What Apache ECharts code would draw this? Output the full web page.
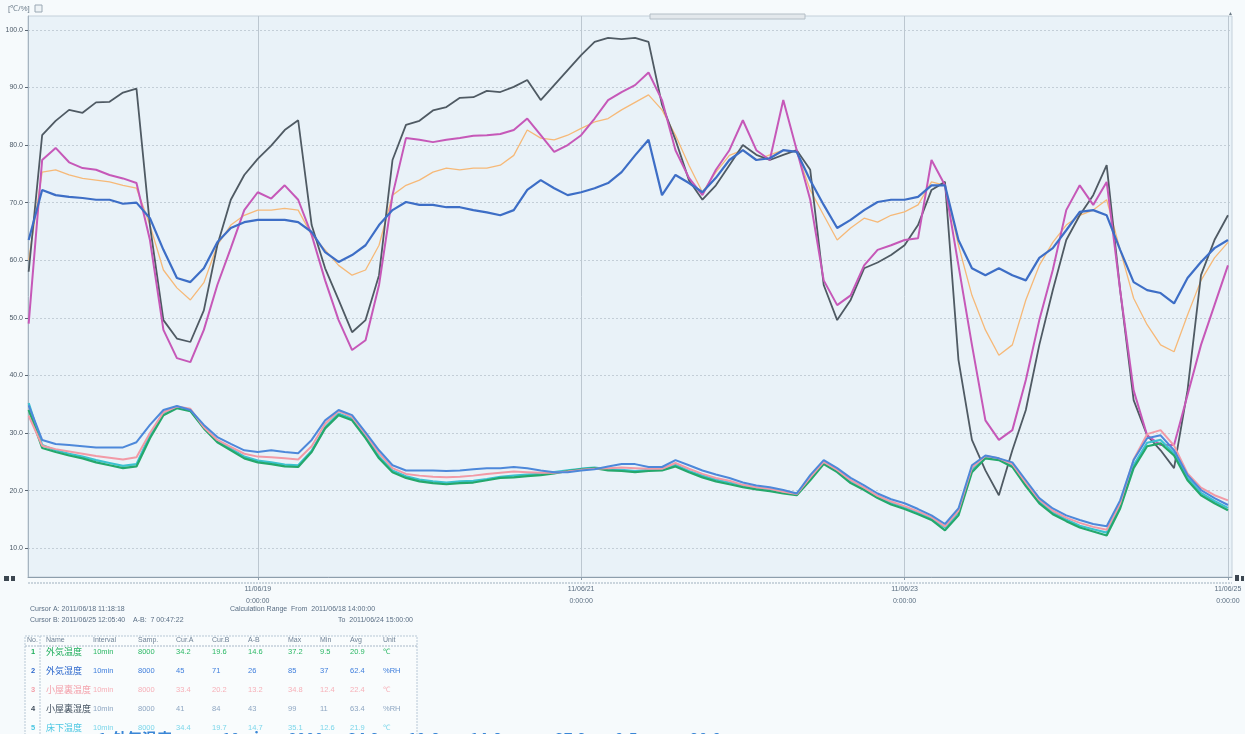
<!DOCTYPE html>
<html>
<head>
<meta charset="utf-8">
<script src="https://cdn.jsdelivr.net/npm/echarts@6/dist/echarts.min.js"></script>
<style>
  html, body { margin: 0; padding: 0; background: #f6fafc; }
  #chart { width: 1245px; height: 734px; }
</style>
</head>
<body>
<div id="chart"></div>
<script>
// Logger export: 8 channels, one reading every 2 hours, hours counted from 2011-06-17 00:00
const firstHour = 14;
const stepHours = 2;

const xTickHours = [48, 96, 144, 192];
const yTickValues = [10, 20, 30, 40, 50, 60, 70, 80, 90, 100];

// attic humidity (%RH)
const atticHumidity = [
  58.0, 81.7, 84.2, 86.1, 85.6, 87.4, 87.5, 89.1, 89.8, 66.0,
  49.6, 46.4, 45.8, 51.3, 62.6, 70.5, 74.8, 77.6, 79.9, 82.6,
  84.3, 66.1, 58.6, 53.1, 47.5, 49.6, 57.4, 77.4, 83.5, 84.2,
  86.0, 86.6, 88.2, 88.3, 89.4, 89.2, 90.1, 91.3, 87.8, 90.4,
  93.0, 95.6, 97.9, 98.6, 98.4, 98.6, 97.9, 87.0, 80.9, 73.9,
  70.5, 73.0, 76.5, 80.0, 78.3, 77.4, 78.3, 79.1, 75.7, 55.7,
  49.6, 53.1, 58.6, 59.6, 60.9, 62.6, 66.1, 72.2, 73.6, 42.7,
  28.8, 23.5, 19.2, 27.0, 34.0, 45.3, 54.8, 63.5, 67.8, 71.3,
  76.5, 54.8, 35.7, 29.6, 27.0, 23.9, 37.4, 57.4, 63.5, 67.8
];
// room humidity (%RH)
const roomHumidity = [
  49.0, 77.4, 79.5, 77.0, 76.0, 75.7, 74.8, 74.2, 73.4, 63.5,
  47.9, 43.0, 42.3, 47.9, 55.7, 62.1, 68.7, 71.8, 70.7, 73.0,
  70.5, 64.4, 56.5, 49.6, 44.4, 46.1, 55.7, 71.3, 81.2, 80.9,
  80.5, 80.9, 81.2, 81.6, 81.7, 81.9, 82.6, 84.6, 81.7, 78.8,
  80.0, 81.7, 84.6, 87.8, 89.2, 90.4, 92.6, 87.8, 79.1, 74.3,
  71.3, 75.7, 79.1, 84.3, 79.1, 77.4, 87.8, 79.1, 70.5, 56.5,
  52.2, 53.9, 59.1, 61.8, 62.6, 63.5, 63.8, 77.4, 73.0, 59.1,
  45.3, 32.2, 28.8, 30.5, 39.2, 49.6, 58.3, 68.7, 73.0, 69.6,
  73.6, 54.8, 37.4, 29.6, 27.9, 27.9, 36.6, 45.3, 52.2, 59.1
];
// underfloor humidity (%RH)
const floorHumidity = [
  60.0, 75.3, 75.7, 74.8, 74.2, 73.9, 73.6, 73.0, 72.5, 66.1,
  58.3, 55.2, 53.1, 56.1, 62.6, 66.1, 67.8, 68.7, 68.7, 69.0,
  68.7, 64.4, 61.8, 59.1, 57.4, 58.3, 62.6, 71.3, 73.0, 73.9,
  75.3, 76.0, 75.7, 76.0, 76.0, 76.5, 78.2, 82.6, 81.2, 80.9,
  81.7, 82.9, 84.0, 84.6, 86.1, 87.4, 88.7, 86.1, 81.7, 76.5,
  71.8, 75.3, 78.2, 79.1, 77.4, 78.3, 79.1, 78.8, 72.2, 67.8,
  63.5, 65.6, 67.3, 66.6, 67.8, 68.4, 69.6, 73.6, 73.0, 62.6,
  53.9, 47.9, 43.5, 45.3, 53.1, 59.1, 63.1, 66.1, 67.8, 68.7,
  70.5, 61.8, 53.4, 48.8, 45.3, 44.1, 50.5, 56.5, 60.4, 63.1
];
// outdoor humidity (%RH)
const outdoorHumidity = [
  63.5, 72.2, 71.3, 71.0, 70.8, 70.5, 70.5, 69.8, 70.0, 67.3,
  61.8, 56.9, 56.2, 58.6, 63.1, 65.6, 66.6, 67.0, 67.0, 67.0,
  66.6, 64.9, 61.4, 59.7, 60.9, 62.6, 66.1, 68.7, 70.1, 69.6,
  69.6, 69.2, 69.2, 68.7, 68.3, 67.8, 68.7, 72.2, 73.9, 72.5,
  71.3, 71.8, 72.5, 73.4, 75.3, 78.2, 80.9, 71.3, 74.8, 73.4,
  71.8, 74.3, 77.4, 79.1, 77.4, 77.7, 79.1, 78.8, 73.9, 69.6,
  65.6, 67.0, 68.7, 70.1, 70.5, 70.5, 71.0, 73.0, 73.0, 63.5,
  58.6, 57.4, 58.6, 57.4, 56.5, 60.4, 62.1, 65.2, 68.4, 68.7,
  67.8, 61.8, 56.2, 54.8, 54.3, 52.5, 56.9, 59.7, 62.1, 63.5
];
// outdoor temperature (℃)
const outdoorTemp = [
  34.0, 27.4, 26.7, 26.1, 25.6, 24.9, 24.4, 23.9, 24.2, 29.1,
  33.1, 34.3, 33.8, 30.8, 28.4, 27.0, 25.6, 24.9, 24.6, 24.2,
  24.1, 26.7, 30.8, 33.1, 32.2, 29.1, 25.6, 23.2, 22.2, 21.6,
  21.3, 21.1, 21.3, 21.4, 21.8, 22.2, 22.3, 22.5, 22.7, 23.0,
  23.4, 23.7, 23.9, 23.5, 23.4, 23.2, 23.4, 23.5, 24.2, 23.2,
  22.3, 21.6, 21.1, 20.6, 20.2, 19.9, 19.5, 19.2, 21.8, 24.6,
  23.2, 21.3, 20.1, 18.7, 17.6, 16.8, 15.9, 14.9, 13.1, 15.7,
  23.2, 25.6, 25.3, 24.1, 20.8, 17.8, 15.9, 14.7, 13.6, 12.9,
  12.2, 16.9, 23.9, 27.7, 28.2, 26.1, 21.8, 19.2, 17.8, 16.6
];
// attic temperature (℃)
const atticTemp = [
  33.0, 27.8, 27.2, 26.8, 26.4, 26.0, 25.7, 25.4, 25.8, 30.0,
  33.6, 34.6, 34.2, 31.0, 28.8, 27.6, 26.4, 25.9, 25.8, 25.6,
  25.4, 27.7, 31.6, 33.8, 32.8, 29.8, 26.5, 23.9, 22.9, 22.6,
  22.4, 22.3, 22.4, 22.6, 22.9, 23.1, 23.3, 23.2, 23.1, 23.1,
  23.3, 23.6, 23.8, 23.9, 24.0, 23.9, 23.8, 23.8, 24.8, 23.8,
  22.9, 22.2, 21.7, 21.0, 20.6, 20.3, 19.8, 19.4, 22.3, 25.0,
  23.6, 21.8, 20.5, 19.1, 18.1, 17.3, 16.4, 15.4, 13.8, 16.5,
  24.0, 26.0, 25.6, 24.6, 21.4, 18.4, 16.5, 15.3, 14.4, 13.7,
  13.2, 17.8, 25.4, 29.8, 30.5, 27.8, 23.0, 20.5, 19.2, 18.3
];
// underfloor temperature (℃)
const floorTemp = [
  35.2, 27.9, 27.0, 26.4, 25.9, 25.3, 24.8, 24.3, 24.6, 29.6,
  33.5, 34.5, 33.9, 31.0, 28.6, 27.3, 25.9, 25.2, 24.9, 24.5,
  24.4, 26.9, 31.0, 33.4, 32.5, 29.4, 25.9, 23.5, 22.5, 21.9,
  21.6, 21.4, 21.6, 21.7, 22.0, 22.4, 22.6, 22.8, 22.9, 23.2,
  23.5, 23.8, 24.0, 23.7, 23.6, 23.4, 23.6, 23.7, 24.5, 23.4,
  22.6, 21.9, 21.4, 20.9, 20.5, 20.2, 19.8, 19.5, 22.1, 24.8,
  23.5, 21.6, 20.4, 19.0, 17.9, 17.1, 16.2, 15.2, 13.6, 16.1,
  23.6, 25.8, 25.4, 24.3, 21.1, 18.1, 16.2, 15.0, 13.9, 13.3,
  12.7, 17.3, 24.4, 28.3, 28.8, 26.5, 22.2, 19.6, 18.2, 17.0
];
// room temperature (℃)
const roomTemp = [
  34.8, 28.8, 28.1, 27.9, 27.7, 27.5, 27.5, 27.5, 28.4, 31.4,
  34.0, 34.7, 34.0, 31.4, 29.3, 28.1, 27.0, 26.7, 27.0, 26.7,
  26.5, 28.8, 32.2, 34.0, 33.1, 30.1, 27.0, 24.4, 23.5, 23.5,
  23.5, 23.4, 23.5, 23.7, 23.9, 23.9, 24.1, 23.9, 23.5, 23.2,
  23.2, 23.5, 23.7, 24.2, 24.6, 24.6, 24.1, 24.1, 25.3, 24.4,
  23.5, 22.8, 22.2, 21.4, 20.9, 20.6, 20.1, 19.5, 22.7, 25.3,
  23.9, 22.2, 20.9, 19.5, 18.5, 17.8, 16.8, 15.7, 14.2, 16.9,
  24.4, 26.1, 25.6, 24.9, 21.8, 18.7, 16.9, 15.7, 14.9, 14.2,
  13.8, 18.3, 25.3, 29.1, 29.6, 27.0, 22.7, 20.1, 18.7, 17.5
];

// summary table rows
const tableHeader = ['No.', 'Name', 'Interval', 'Samp.', 'Cur.A', 'Cur.B', 'A-B', 'Max', 'Min', 'Avg', 'Unit'];
const tableRows = [
  ['1', '外気温度', '10min', '8000', '34.2', '19.6', '14.6', '37.2', '9.5', '20.9', '℃'],
  ['2', '外気湿度', '10min', '8000', '45', '71', '26', '85', '37', '62.4', '%RH'],
  ['3', '小屋裏温度', '10min', '8000', '33.4', '20.2', '13.2', '34.8', '12.4', '22.4', '℃'],
  ['4', '小屋裏湿度', '10min', '8000', '41', '84', '43', '99', '11', '63.4', '%RH'],
  ['5', '床下温度', '10min', '8000', '34.4', '19.7', '14.7', '35.1', '12.6', '21.9', '℃']
];
const footerCells = ['1.外気温度', '10min', '8000', '34.2', '19.6', '14.6', '37.2', '9.5', '20.9'];

const channels = [
  { name: '床下湿度', color: '#f6b978', width: 1.3, data: floorHumidity },
  { name: '小屋裏湿度', color: '#4f5a63', width: 1.8, data: atticHumidity },
  { name: '室内湿度', color: '#c658b8', width: 2, data: roomHumidity },
  { name: '外気湿度', color: '#3d6ec6', width: 2.2, data: outdoorHumidity },
  { name: '床下温度', color: '#3cc2cf', width: 2.2, data: floorTemp },
  { name: '外気温度', color: '#25a86c', width: 2.2, data: outdoorTemp },
  { name: '小屋裏温度', color: '#f29aa6', width: 2, data: atticTemp },
  { name: '室内温度', color: '#4d88da', width: 2, data: roomTemp }
];

function pairs(values) {
  return values.map((v, i) => [firstHour + i * stepHours, v]);
}

function hourLabel(h) {
  const d = new Date(Date.UTC(2011, 5, 17) + h * 3600000);
  const p = n => String(n).padStart(2, '0');
  const yy = p(d.getUTCFullYear() % 100), mm = p(d.getUTCMonth() + 1), dd = p(d.getUTCDate());
  return yy + '/' + mm + '/' + dd + '\n' + d.getUTCHours() + ':' + p(d.getUTCMinutes()) + ':00';
}

const smallFont = 'Liberation Sans, Arial, sans-serif';
const cjkFont = '"Noto Sans CJK JP", "Noto Sans", sans-serif';

// table layout
const colX = [31, 46, 93, 138, 176, 212, 248, 288, 320, 350, 383];
const rowColors = [
  { name: '#1fae5c', val: '#2cb865' },
  { name: '#2a66cc', val: '#3f7edc' },
  { name: '#f4a0aa', val: '#f7b0b8' },
  { name: '#3f4d5c', val: '#8ea6c2' },
  { name: '#49c6e2', val: '#7cd6ea' }
];
const rowY = [652, 671, 690, 709, 728];

const graphics = [];
function txt(x, y, s, opt) {
  graphics.push({
    type: 'text', x: x, y: y, silent: true,
    style: Object.assign({ text: s, fontSize: 7, fill: '#5a6e84', fontFamily: smallFont, verticalAlign: 'middle' }, opt || {})
  });
}

// top-left unit label and frame decorations
txt(8, 9, '[℃/%]', { fontSize: 8, fill: '#6c7c8a' });
graphics.push({ type: 'rect', shape: { x: 35, y: 5, width: 7, height: 7 }, style: { fill: '#eef3f6', stroke: '#9aa8b4', lineWidth: 1 }, silent: true });
graphics.push({ type: 'rect', shape: { x: 650, y: 14, width: 155, height: 5 }, style: { fill: '#e3e8ec', stroke: '#b4bec6', lineWidth: 1 }, silent: true });
txt(1228, 14, '▲', { fontSize: 5, fill: '#6e7c88' });
graphics.push({ type: 'line', shape: { x1: 28, y1: 583, x2: 1232, y2: 583 }, style: { stroke: '#9fb0be', lineWidth: 1, lineDash: [2, 1] }, silent: true });
graphics.push({ type: 'rect', shape: { x: 4, y: 576, width: 5, height: 5 }, style: { fill: '#3c4650' }, silent: true });
graphics.push({ type: 'rect', shape: { x: 11, y: 576, width: 4, height: 5 }, style: { fill: '#3c4650' }, silent: true });
graphics.push({ type: 'rect', shape: { x: 1235, y: 575, width: 4, height: 6 }, style: { fill: '#3c4650' }, silent: true });
graphics.push({ type: 'rect', shape: { x: 1241, y: 576, width: 3, height: 5 }, style: { fill: '#3c4650' }, silent: true });

// cursor and range information
txt(30, 609, 'Cursor A: 2011/06/18 11:18:18');
txt(30, 620, 'Cursor B: 2011/06/25 12:05:40    A-B:  7 00:47:22');
txt(230, 609, 'Calculation Range  From  2011/06/18 14:00:00');
txt(338, 620, 'To  2011/06/24 15:00:00');

// table frame
graphics.push({ type: 'rect', shape: { x: 25, y: 636, width: 392, height: 100 }, style: { fill: 'rgba(255,255,255,0.4)', stroke: '#b8c8d6', lineWidth: 1, lineDash: [2, 1] }, silent: true });
graphics.push({ type: 'line', shape: { x1: 25, y1: 646, x2: 417, y2: 646 }, style: { stroke: '#a8b8c8', lineWidth: 1, lineDash: [2, 1] }, silent: true });
graphics.push({ type: 'line', shape: { x1: 40, y1: 636, x2: 40, y2: 734 }, style: { stroke: '#b8c8d6', lineWidth: 1, lineDash: [2, 1] }, silent: true });
tableHeader.forEach((h, i) => txt(colX[i] + (i === 0 ? -4 : 0), 640, h, { fill: '#6f8296' }));
tableRows.forEach((row, r) => {
  row.forEach((cell, c) => {
    const isName = c <= 1;
    txt(colX[c], rowY[r], cell, {
      fontSize: c === 1 ? 9 : 7.5,
      fontFamily: c === 1 ? cjkFont : smallFont,
      fill: isName ? rowColors[r].name : rowColors[r].val,
      fontWeight: c === 0 ? 'bold' : 'normal'
    });
  });
});
// enlarged readout line at the bottom edge
const footerX = [98, 222, 288, 348, 408, 470, 555, 615, 690];
footerCells.forEach((s, i) => txt(footerX[i], 738, s, { fontSize: 15, fontFamily: cjkFont, fill: '#3a86d6', fontWeight: 'bold' }));

const chart = echarts.init(document.getElementById('chart'), null, { renderer: 'canvas' });
chart.setOption({
  animation: false,
  backgroundColor: '#f6fafc',
  grid: {
    left: 28, right: 13, top: 16, bottom: 157,
    show: true, backgroundColor: '#e9f2f8', borderColor: '#c4d0da', borderWidth: 1
  },
  xAxis: {
    type: 'value',
    min: 13.9,
    max: 192.6,
    axisLine: { show: true, lineStyle: { color: '#8d9eac' } },
    axisTick: { show: true, customValues: xTickHours, length: 3, lineStyle: { color: '#8d9eac' } },
    axisLabel: {
      customValues: xTickHours, formatter: hourLabel,
      fontSize: 7, lineHeight: 12, color: '#5c6f82', margin: 6, fontFamily: smallFont
    },
    splitLine: { show: true, lineStyle: { color: '#bcc7d0', width: 1 } }
  },
  yAxis: {
    type: 'value',
    min: 5,
    max: 102.4,
    axisLine: { show: true, lineStyle: { color: '#a6b4c0' } },
    axisTick: { show: true, customValues: yTickValues, length: 3, lineStyle: { color: '#5a6672' } },
    axisLabel: {
      customValues: yTickValues, formatter: v => v.toFixed(1),
      fontSize: 7, color: '#4c5a68', margin: 5, fontFamily: smallFont
    },
    splitLine: { show: true, lineStyle: { color: '#c3ced7', width: 1, type: [2, 2] } }
  },
  series: channels.map(ch => ({
    name: ch.name,
    type: 'line',
    data: pairs(ch.data),
    showSymbol: false,
    symbol: 'none',
    silent: true,
    lineStyle: { color: ch.color, width: ch.width },
    itemStyle: { color: ch.color }
  })),
  graphic: graphics
});
</script>
</body>
</html>
